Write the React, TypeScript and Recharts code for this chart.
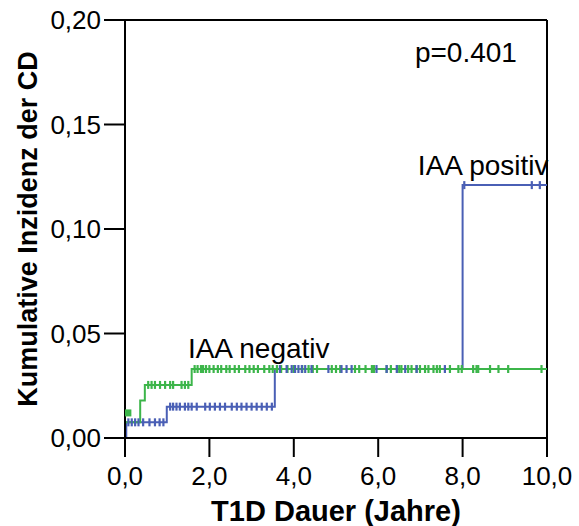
import { ComposedChart, Line, Scatter, XAxis, YAxis, ReferenceLine, ReferenceDot, Label } from 'recharts';

// Kaplan-Meier steps (time in years, cumulative incidence)
const posTimes = [0, 0.03, 0.99, 3.55, 8.0, 10.0];
const posValues = [0, 0.0075, 0.015, 0.033, 0.121, 0.121];
const negTimes = [0, 0.36, 0.47, 1.58, 10.0];
const negValues = [0.0075, 0.018, 0.0254, 0.033, 0.033];

// censored observations
const posCensored = [
  0.08, 0.16, 0.24, 0.32, 0.43, 0.58, 0.71, 0.82, 0.91,
  1.07, 1.14, 1.22, 1.3, 1.42, 1.5, 1.58, 1.7, 1.9, 2.01, 2.13, 2.25, 2.37, 2.53, 2.65, 2.76, 2.88, 3.0, 3.12, 3.24, 3.36, 3.48,
  3.67, 3.83, 3.95, 4.03, 4.11, 4.19, 4.27, 4.42, 4.82, 5.13, 5.25, 5.37, 5.96, 6.2, 6.44, 6.64, 6.91, 7.58,
  8.04, 9.64, 9.83,
];
const negCensored = [
  0.55, 0.63, 0.71, 0.83, 0.95, 1.07, 1.14, 1.34, 1.42, 1.5,
  1.65, 1.72, 1.8, 1.85, 1.92, 2.0, 2.1, 2.2, 2.28, 2.4, 2.48, 2.6, 2.7, 2.85, 2.95, 3.05, 3.15, 3.3, 3.42, 3.5,
  3.6, 3.7, 3.85, 4.0, 4.2, 4.35, 4.45, 4.55, 4.9, 5.0, 5.1, 5.45, 5.55, 5.7, 5.85, 5.9, 6.2, 6.3, 6.45, 6.5, 6.55,
  6.71, 6.79, 6.91, 6.99, 7.11, 7.19, 7.31, 7.39, 7.46, 7.7, 7.9, 7.98, 8.25, 8.33, 8.37, 8.65, 8.85, 9.08, 9.87,
];
// cluster of marks right at the start of the negative group
const negStartCluster = [{ x: 0.08, y: 0.012 }];

const xTicks = [0, 2, 4, 6, 8, 10];
const yTicks = [0, 0.05, 0.1, 0.15, 0.2];

const BLUE = '#4a5fb5';
const GREEN = '#3cb54a';
const FONT = 'Arial, "Liberation Sans", Helvetica, sans-serif';

const toSteps = (times: number[], values: number[]) => times.map((x, i) => ({ x, y: values[i] }));
const levelAt = (times: number[], values: number[], t: number) => {
  let v = values[0];
  times.forEach((x, i) => {
    if (x <= t) v = values[i];
  });
  return v;
};

const posData = toSteps(posTimes, posValues);
const negData = toSteps(negTimes, negValues);
const posMarks = posCensored.map((x) => ({ x, y: levelAt(posTimes, posValues, x) }));
const negMarks = negCensored.map((x) => ({ x, y: levelAt(negTimes, negValues, x) }));

const censorTick = (color: string) => (props: any) => (
  <line x1={props.cx} x2={props.cx} y1={props.cy - 4} y2={props.cy + 4} stroke={color} strokeWidth={2.2} />
);

const squareMark = (props: any) => (
  <rect x={props.cx - 4} y={props.cy - 3.5} width={7} height={7} fill={GREEN} />
);

const YTitle = (props: any) => {
  const { x, y, height } = props.viewBox;
  const cx = x + 28;
  const cy = y + height / 2;
  return (
    <text
      x={cx}
      y={cy}
      transform={`rotate(-90 ${cx} ${cy})`}
      textAnchor="middle"
      dominantBaseline="central"
      fontFamily={FONT}
      fontWeight="bold"
      fontSize={27}
      fill="#000"
    >
      Kumulative Inzidenz der CD
    </text>
  );
};

const annot = { position: 'right' as const, offset: 0, fontSize: 28, fill: '#000', fontFamily: FONT };

export default function App() {
  return (
    <div style={{ position: 'absolute', left: 0, top: 0, background: '#fff' }}>
      <ComposedChart width={579} height={526} margin={{ top: 20, right: 32, bottom: 0, left: 0 }}>
        <XAxis
          type="number"
          dataKey="x"
          domain={[0, 10]}
          ticks={xTicks}
          allowDataOverflow
          height={88}
          tickSize={19}
          tickMargin={10}
          axisLine={{ stroke: '#000', strokeWidth: 2 }}
          tickLine={{ stroke: '#000', strokeWidth: 2 }}
          tick={{ fill: '#000', fontSize: 26, fontFamily: FONT }}
          tickFormatter={(v: number) => v.toFixed(1).replace('.', ',')}
        >
          <Label
            value="T1D Dauer (Jahre)"
            position="insideBottom"
            offset={5}
            fontSize={29}
            fontWeight="bold"
            fontFamily={FONT}
            fill="#000"
          />
        </XAxis>
        <YAxis
          type="number"
          domain={[0, 0.2]}
          ticks={yTicks}
          width={125}
          tickSize={21}
          tickMargin={3}
          axisLine={{ stroke: '#000', strokeWidth: 2 }}
          tickLine={{ stroke: '#000', strokeWidth: 2 }}
          tick={{ fill: '#000', fontSize: 26, fontFamily: FONT }}
          tickFormatter={(v: number) => v.toFixed(2).replace('.', ',')}
        >
          <Label content={YTitle} />
        </YAxis>
        <ReferenceLine y={0.2} stroke="#000" strokeWidth={2} />
        <ReferenceLine x={10} stroke="#000" strokeWidth={2} />

        <Line data={posData} dataKey="y" type="stepAfter" stroke={BLUE} strokeWidth={2} dot={false} isAnimationActive={false} />
        <Line data={negData} dataKey="y" type="stepAfter" stroke={GREEN} strokeWidth={2} dot={false} isAnimationActive={false} />
        <Scatter data={negStartCluster} dataKey="y" shape={squareMark} isAnimationActive={false} />
        <Scatter data={negMarks} dataKey="y" shape={censorTick(GREEN)} isAnimationActive={false} />
        <Scatter data={posMarks} dataKey="y" shape={censorTick(BLUE)} isAnimationActive={false} />

        <ReferenceDot x={6.87} y={0.1848} r={0} fill="none" stroke="none" label={{ value: 'p=0.401', ...annot }} />
        <ReferenceDot x={6.94} y={0.1306} r={0} fill="none" stroke="none" label={{ value: 'IAA positiv', ...annot }} />
        <ReferenceDot x={1.49} y={0.0431} r={0} fill="none" stroke="none" label={{ value: 'IAA negativ', ...annot }} />
      </ComposedChart>
    </div>
  );
}
